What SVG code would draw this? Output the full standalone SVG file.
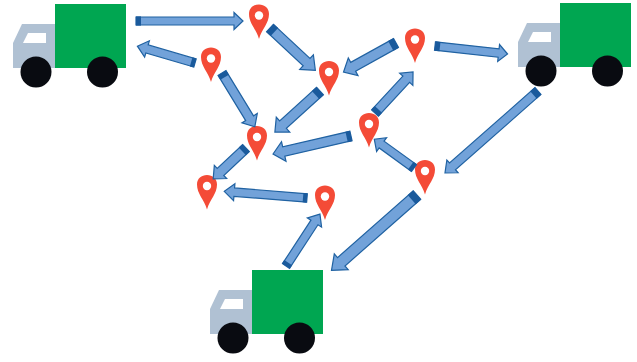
<svg xmlns="http://www.w3.org/2000/svg" xmlns:xlink="http://www.w3.org/1999/xlink" width="637" height="362" viewBox="0 0 637 362">
<style>
.cab{fill:#b0c1d3}.win{fill:#fff}.box{fill:#00a651}.wh{fill:#090b11}
.shaft{fill:#72a2d9;stroke:#2062a2;stroke-width:1.2;stroke-linejoin:miter}
.tail{fill:#1a5a9c}
.pin{fill:#f44b37}.hole{fill:#fff}
</style>
<defs>
<g id="truck">
<path class="cab" d="M13,68V43L22,24H56V68Z"/>
<path class="win" d="M28,33H46V43H23Z"/>
<rect class="box" x="55" y="4" width="71" height="64"/>
<circle class="wh" cx="36" cy="72" r="15.500"/>
<circle class="wh" cx="102.500" cy="72" r="15.500"/>
</g>
<g id="pinshape">
<path class="pin" d="M0,23.500C-3,13 -10,8 -10,-1.500C-10,-7.500 -5.500,-11 0,-11C5.500,-11 10,-7.500 10,-1.500C10,8 3,13 0,23.500Z"/>
<circle class="hole" r="4.200"/>
</g>
</defs>
<g id="truck-1"><use xlink:href="#truck" href="#truck"/></g>
<g id="truck-2"><use xlink:href="#truck" href="#truck" x="505" y="-1"/></g>
<g id="truck-3"><use xlink:href="#truck" href="#truck" x="197" y="266"/></g>
<g id="pin-1"><use xlink:href="#pinshape" href="#pinshape" x="259" y="15.500"/></g>
<g id="pin-2"><use xlink:href="#pinshape" href="#pinshape" x="211" y="58.500"/></g>
<g id="pin-3"><use xlink:href="#pinshape" href="#pinshape" x="329" y="72"/></g>
<g id="pin-4"><use xlink:href="#pinshape" href="#pinshape" x="415" y="39.500"/></g>
<g id="pin-5"><use xlink:href="#pinshape" href="#pinshape" x="257" y="137"/></g>
<g id="pin-6"><use xlink:href="#pinshape" href="#pinshape" x="369" y="124"/></g>
<g id="pin-7"><use xlink:href="#pinshape" href="#pinshape" x="425" y="171"/></g>
<g id="pin-8"><use xlink:href="#pinshape" href="#pinshape" x="207" y="186"/></g>
<g id="pin-9"><use xlink:href="#pinshape" href="#pinshape" x="325" y="196.500"/></g>
<g id="connectors">
<g transform="translate(136,21)"><path class="shaft" d="M0,-4H98V-8.500L107,0L98,8.500V4H0Z"/><rect class="tail" y="-4.600" width="5" height="9.200"/></g>
<g transform="translate(195,63) rotate(196.300)"><path class="shaft" d="M0,-4.200H50V-8.500L60,0L50,8.500V4.200H0Z"/><rect class="tail" y="-4.700" width="4" height="9.400"/></g>
<g transform="translate(222,73) rotate(58.600)"><path class="shaft" d="M0,-4.600H53V-9L63,0L53,9V4.600H0Z"/><rect class="tail" y="-5" width="5" height="10"/></g>
<g transform="translate(270,28) rotate(43)"><path class="shaft" d="M0,-5H50V-10L62,0L50,10V5H0Z"/><rect class="tail" y="-5.500" width="6" height="11"/></g>
<g transform="translate(396,43) rotate(151)"><path class="shaft" d="M0,-5H49V-10L60,0L49,10V5H0Z"/><rect class="tail" y="-5.500" width="6" height="11"/></g>
<g transform="translate(320,91) rotate(137.700)"><path class="shaft" d="M0,-5H50V-10L61,0L50,10V5H0Z"/><rect class="tail" y="-5.500" width="6" height="11"/></g>
<g transform="translate(375,113) rotate(-47.200)"><path class="shaft" d="M0,-4.600H46V-9L56,0L46,9V4.600H0Z"/><rect class="tail" y="-5" width="5" height="10"/></g>
<g transform="translate(351,136) rotate(167)"><path class="shaft" d="M0,-4.800H69V-10L80,0L69,10V4.800H0Z"/><rect class="tail" y="-5.300" width="4.500" height="10.600"/></g>
<g transform="translate(246,148) rotate(136.800)"><path class="shaft" d="M0,-4.800H35V-9L45,0L35,9V4.800H0Z"/><rect class="tail" y="-5.300" width="5" height="10.600"/></g>
<g transform="translate(435,46) rotate(6.300)"><path class="shaft" d="M0,-4.200H64V-8.500L73,0L64,8.500V4.200H0Z"/><rect class="tail" y="-4.700" width="5" height="9.400"/></g>
<g transform="translate(538,91) rotate(138.600)"><path class="shaft" d="M0,-4.500H114V-8.500L124,0L114,8.500V4.500H0Z"/><rect class="tail" y="-5" width="6" height="10"/></g>
<g transform="translate(414,168) rotate(215.900)"><path class="shaft" d="M0,-4.200H40V-8.500L49,0L40,8.500V4.200H0Z"/><rect class="tail" y="-4.700" width="4" height="9.400"/></g>
<g transform="translate(417,195) rotate(138.600)"><path class="shaft" d="M0,-5.600H101V-10.500L114,0L101,10.500V5.600H0Z"/><rect class="tail" y="-6.100" width="7" height="12.200"/></g>
<g transform="translate(307,198) rotate(184.600)"><path class="shaft" d="M0,-4.200H73V-8.500L83,0L73,8.500V4.200H0Z"/><rect class="tail" y="-4.700" width="4" height="9.400"/></g>
<g transform="translate(286,266) rotate(-56.800)"><path class="shaft" d="M0,-4.200H52V-8.500L62,0L52,8.500V4.200H0Z"/><rect class="tail" y="-4.700" width="4" height="9.400"/></g>
</g>
</svg>
